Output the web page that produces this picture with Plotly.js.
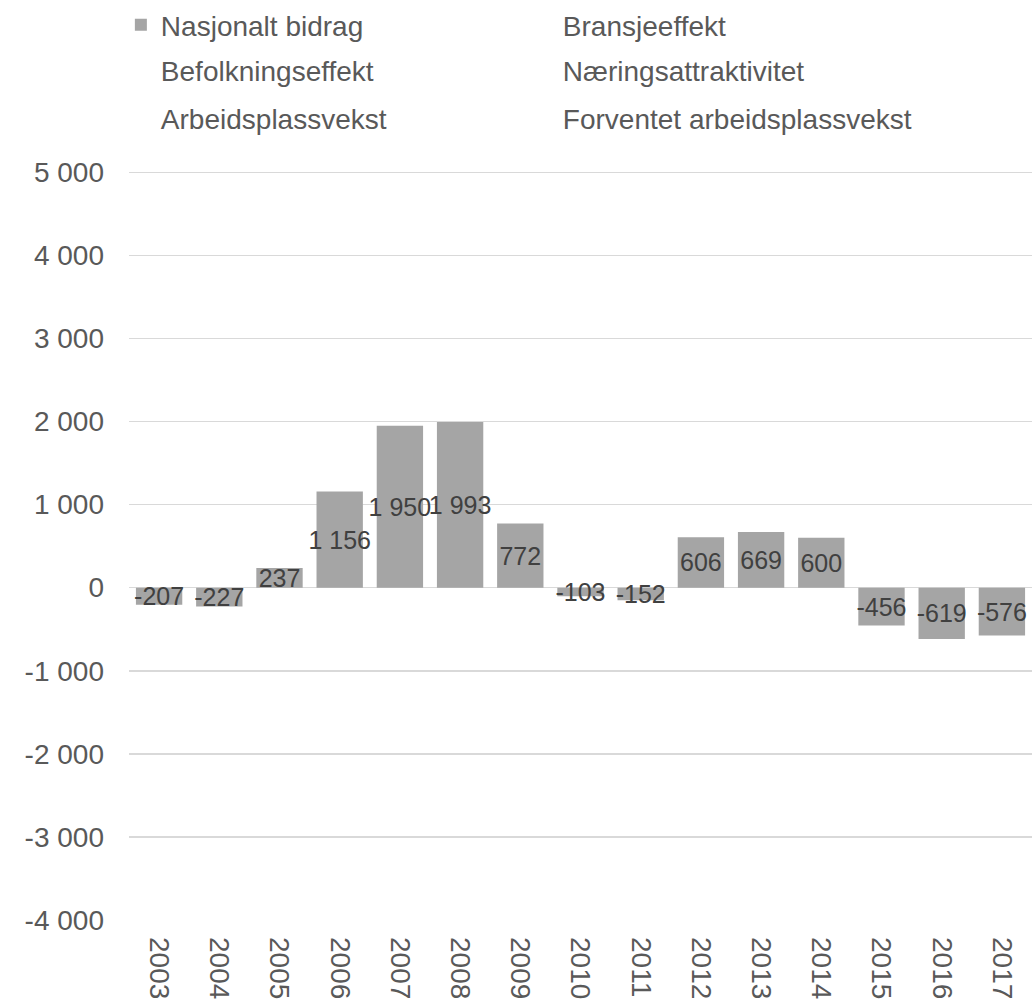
<!DOCTYPE html>
<html>
<head>
<meta charset="utf-8">
<script src="https://cdn.plot.ly/plotly-3.0.1.min.js"></script>
<style>
  html, body { margin: 0; padding: 0; background: #ffffff; }
  #chart { width: 1033px; height: 1005px; }
</style>
</head>
<body>
<div id="chart"></div>
<script>
// Years on the category axis
const years = ['2003', '2004', '2005', '2006', '2007', '2008', '2009', '2010',
               '2011', '2012', '2013', '2014', '2015', '2016', '2017'];

// Nasjonalt bidrag per year
const nasjonaltBidrag = [-207, -227, 237, 1156, 1950, 1993, 772, -103,
                         -152, 606, 669, 600, -456, -619, -576];

// Series names shown in the legend (only the first one carries values)
const seriesNames = ['Nasjonalt bidrag', 'Bransjeeffekt', 'Befolkningseffekt',
                     'Næringsattraktivitet', 'Arbeidsplassvekst', 'Forventet arbeidsplassvekst'];

// Value-axis ticks
const yTickVals = [-4000, -3000, -2000, -1000, 0, 1000, 2000, 3000, 4000, 5000];
const yTickText = ['-4 000', '-3 000', '-2 000', '-1 000', '0', '1 000', '2 000', '3 000', '4 000', '5 000'];

// Format a number with a space as thousands separator and a plain hyphen for negatives
function fmt(v) {
  const s = String(Math.abs(v)).replace(/\B(?=(\d{3})+(?!\d))/g, ' ');
  return (v < 0 ? '-' : '') + s;
}

const FONT = 'Liberation Sans, Arial, sans-serif';
const TEXT_GREY = '#595959';

const traces = [];

traces.push({
  type: 'bar',
  name: seriesNames[0],
  x: years,
  y: nasjonaltBidrag,
  text: nasjonaltBidrag.map(fmt),
  textposition: 'inside',
  insidetextanchor: 'middle',
  textangle: 0,
  constraintext: 'none',
  textfont: { family: FONT, size: 25, color: '#404040' },
  marker: { color: '#a5a5a5' },
  hoverinfo: 'x+y',
  legend: 'legend'
});

// Remaining series have no values; they only appear as legend entries
const legendIds = ['legend', 'legend2', 'legend2', 'legend3', 'legend3'];
const emptyOrder = [1, 2, 3, 4, 5];
emptyOrder.forEach((idx, k) => {
  traces.push({
    type: 'scatter',
    mode: 'lines',
    name: seriesNames[idx],
    x: years,
    y: years.map(() => null),
    line: { color: 'rgba(0,0,0,0)', width: 0 },
    hoverinfo: 'skip',
    showlegend: true,
    legend: legendIds[k]
  });
});

// One horizontal legend per row, two entries each
function legendRow(y) {
  return {
    orientation: 'h',
    x: -0.009,
    xanchor: 'left',
    y: y,
    yanchor: 'middle',
    entrywidth: 357,
    entrywidthmode: 'pixels',
    bgcolor: 'rgba(0,0,0,0)',
    font: { family: FONT, size: 28, color: TEXT_GREY },
    traceorder: 'normal'
  };
}

const layout = {
  width: 1033,
  height: 1005,
  margin: { l: 129, r: 1, t: 170, b: 85, pad: 0 },
  paper_bgcolor: '#ffffff',
  plot_bgcolor: '#ffffff',
  font: { family: FONT, size: 28, color: TEXT_GREY },
  barmode: 'overlay',
  bargap: 0.23,
  xaxis: {
    type: 'category',
    tickangle: 90,
    ticks: '',
    showgrid: false,
    showline: false,
    zeroline: false,
    ticklabelstandoff: 16,
    tickfont: { family: FONT, size: 28, color: TEXT_GREY }
  },
  yaxis: {
    range: [-4000, 5015],
    tickvals: yTickVals,
    ticktext: yTickText,
    ticks: '',
    showline: false,
    gridcolor: '#d9d9d9',
    gridwidth: 1.5,
    zeroline: true,
    zerolinecolor: '#d9d9d9',
    zerolinewidth: 1.5,
    ticklabelstandoff: 24,
    tickfont: { family: FONT, size: 28, color: TEXT_GREY }
  },
  legend: legendRow(1.1933),
  legend2: legendRow(1.1334),
  legend3: legendRow(1.0694),
  showlegend: true
};

Plotly.newPlot('chart', traces, layout, { displayModeBar: false, staticPlot: true });
</script>
</body>
</html>
